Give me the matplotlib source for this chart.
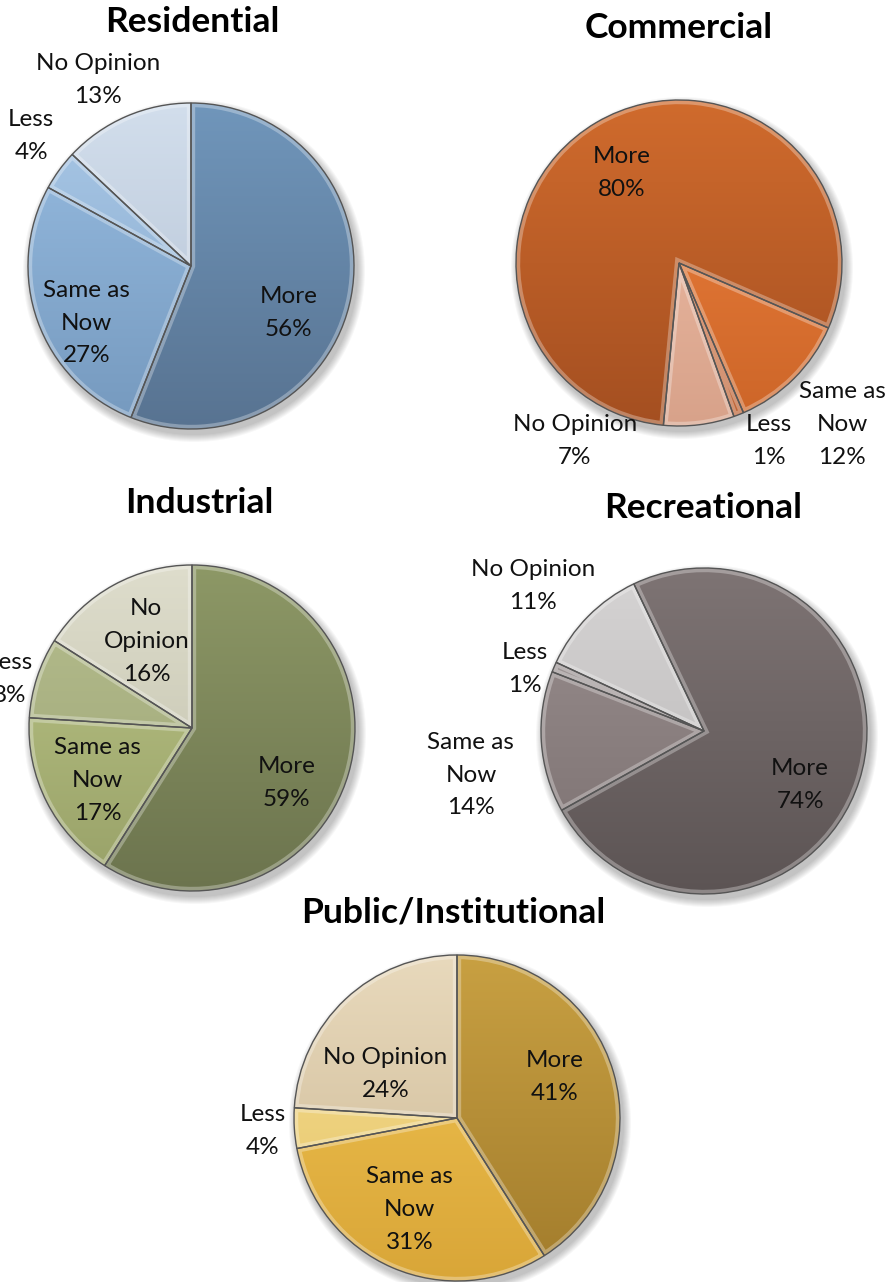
import matplotlib.pyplot as plt
import numpy as np
from matplotlib.colors import to_rgb
from matplotlib.patches import PathPatch

# survey answers, per land-use type
categories = ['More', 'Same as Now', 'Less', 'No Opinion']
titles = ['Residential', 'Commercial', 'Industrial', 'Recreational', 'Public/Institutional']

residential = [56, 27, 4, 13]
commercial = [80, 12, 1, 7]
industrial = [59, 17, 8, 16]
recreational = [74, 14, 1, 11]
public = [41, 31, 4, 24]

values = [residential, commercial, industrial, recreational, public]

# (top, bottom) gradient colours for each slice
palettes = [
    [('#7096bb', '#587391'), ('#98bde2', '#7599be'), ('#a8c7e6', '#88aacd'), ('#d2deec', '#b2c0d2')],
    [('#d06b2d', '#a44f21'), ('#f0823e', '#cc6528'), ('#dc7c4c', '#bd6436'), ('#f1c1aa', '#d8a28a')],
    [('#8d9866', '#6c744e'), ('#bcc687', '#98a168'), ('#b6be8e', '#9ca476'), ('#deddcc', '#c0bfaa')],
    [('#7e7474', '#5c5454'), ('#9a8f8f', '#7b7070'), ('#a69e9e', '#8a8282'), ('#d6d4d4', '#b6b4b4')],
    [('#c8a042', '#a27c2c'), ('#f2c553', '#d9a638'), ('#f5dc8e', '#e6c66c'), ('#e8d9bc', '#ccb894')],
]

W, H = 888, 1282
# pie centres (pixels from top-left), radius, first-slice angle
centres = [(191, 266), (679, 263), (192, 728), (704, 731), (457, 1118)]
radius = 163
start_angles = [90, -95.5, 90, 115.5, 90]
title_pos = [(192, 22), (679, 28), (199, 503), (703, 508), (453, 912)]

# label anchors in units of the radius, relative to each centre
label_offsets = [
    [(0.60, -0.29), (-0.64, -0.35), (-0.98, 0.80), (-0.57, 1.14)],
    [(-0.35, 0.55), (1.00, -0.99), (0.55, -1.09), (-0.64, -1.09)],
    [(0.58, -0.34), (-0.58, -0.32), (-1.12, 0.30), (-0.28, 0.53)],
    [(0.59, -0.33), (-1.43, -0.27), (-1.10, 0.38), (-1.05, 0.89)],
    [(0.60, 0.25), (-0.29, -0.56), (-1.19, -0.08), (-0.44, 0.27)],
]
label_names = [
    ['More', 'Same as\nNow', 'Less', 'No Opinion'],
    ['More', 'Same as\nNow', 'Less', 'No Opinion'],
    ['More', 'Same as\nNow', 'Less', 'No\nOpinion'],
    ['More', 'Same as\nNow', 'Less', 'No Opinion'],
    ['More', 'Same as\nNow', 'Less', 'No Opinion'],
]

plt.rcParams['font.family'] = ['Lato', 'DejaVu Sans']

fig = plt.figure(figsize=(W / 100, H / 100), dpi=100)
ax = fig.add_axes([0, 0, 1, 1])


def gradient(top, bottom, n=256):
    t = np.linspace(0, 1, n)[:, None, None]
    return (1 - t) * np.array(to_rgb(top)) + t * np.array(to_rgb(bottom))


for k in range(5):
    cx, cy = centres[k][0], H - centres[k][1]

    # soft drop shadow
    for i in range(8):
        ax.add_patch(plt.Circle((cx + 3, cy - 5), radius + 1 + i, color='black',
                                alpha=0.03, lw=0, zorder=1))

    wedges, _ = ax.pie(values[k], center=(cx, cy), radius=radius,
                       startangle=start_angles[k], counterclock=False,
                       colors=[p[0] for p in palettes[k]],
                       wedgeprops=dict(edgecolor='none', linewidth=0))

    for w, (top, bottom) in zip(wedges, palettes[k]):
        w.set_zorder(2)
        img = ax.imshow(gradient(top, bottom), extent=(cx - radius, cx + radius, cy - radius, cy + radius),
                        origin='upper', aspect='auto', zorder=3, interpolation='bilinear')
        img.set_clip_path(w)
        # bevel: light rim inside each slice, then a dark outline
        hl = PathPatch(w.get_path(), fill=False, edgecolor='white', alpha=0.3,
                       linewidth=6, zorder=4, transform=w.get_transform())
        ax.add_patch(hl)
        hl.set_clip_path(w)
        edge = PathPatch(w.get_path(), fill=False, edgecolor='#555555',
                         linewidth=1.0, zorder=5, transform=w.get_transform())
        ax.add_patch(edge)

    for name, v, (dx, dy) in zip(label_names[k], values[k], label_offsets[k]):
        ax.text(cx + dx * radius, cy + dy * radius, f'{name}\n{v}%', ha='center', va='center',
                fontsize=17.5, linespacing=1.7, color='#111111', zorder=6)

    tx, ty = title_pos[k]
    ax.text(tx, H - ty, titles[k], ha='center', va='center', fontsize=25.5,
            fontweight='bold', color='black', zorder=6)

ax.set_xlim(0, W)
ax.set_ylim(0, H)
ax.set_aspect('equal')
ax.axis('off')

fig.savefig('out.png', dpi=100, facecolor='white')
